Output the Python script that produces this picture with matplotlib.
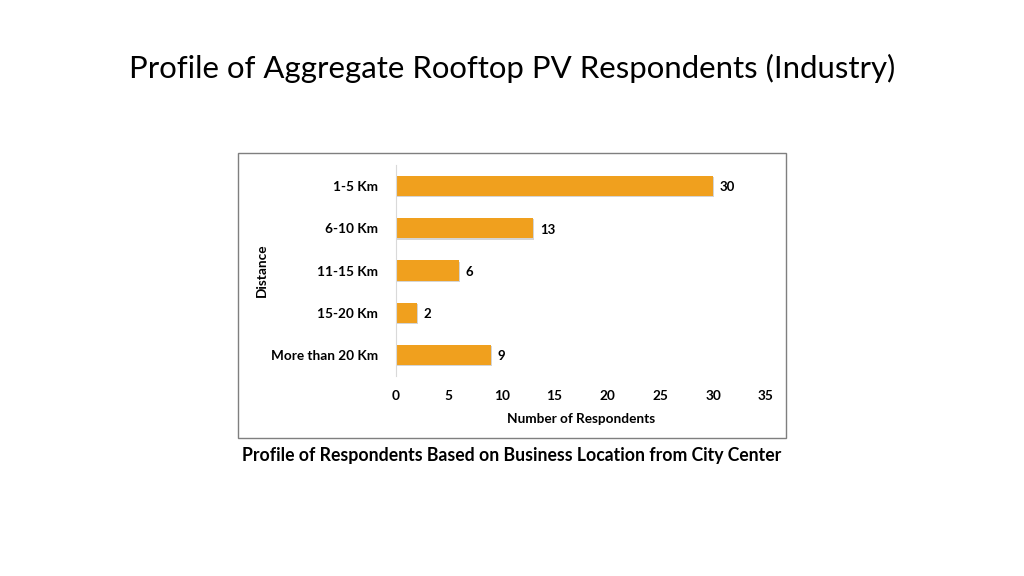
import matplotlib.pyplot as plt
from matplotlib.patches import Rectangle

plt.rcParams['font.family'] = ['Lato', 'DejaVu Sans']

distances = ["1-5 Km", "6-10 Km", "11-15 Km", "15-20 Km", "More than 20 Km"]
respondents = [30, 13, 6, 2, 9]
xticks = [0, 5, 10, 15, 20, 25, 30, 35]

fig = plt.figure(figsize=(10.24, 5.76), dpi=100)

# gray frame round the chart
fig.patches.append(Rectangle((238 / 1024, 1 - 438 / 576), 548 / 1024, 285 / 576,
                             transform=fig.transFigure, fill=False,
                             edgecolor="#7f7f7f", linewidth=1))

ax = fig.add_axes([396 / 1024, 1 - 376 / 576, 370 / 1024, 211 / 576])
ypos = list(range(len(distances)))
ax.barh(ypos, respondents, height=0.48, color="#F0A01E", zorder=2)
# faint shadow under each bar
ax.barh([y + 0.03 for y in ypos], [v + 0.08 for v in respondents], height=0.48,
        color="#d4d4d4", zorder=1)
for y, v in zip(ypos, respondents):
    ax.text(v + 0.6, y + 0.03, str(v), va="center", ha="left", fontsize=9.5, fontweight="bold")

ax.set_yticks(ypos)
ax.set_yticklabels(distances, fontsize=9.8, fontweight="bold")
ax.set_ylim(4.5, -0.5)
ax.set_xlim(0, 35)
ax.set_xticks(xticks)
ax.set_xticklabels([str(t) for t in xticks], fontsize=9.8, fontweight="bold")
ax.tick_params(length=0)
ax.tick_params(axis="y", pad=13)
ax.tick_params(axis="x", pad=10)
for s in ["top", "right", "bottom"]:
    ax.spines[s].set_visible(False)
ax.spines["left"].set_color("#d9d9d9")
ax.set_xlabel("Number of Respondents", fontsize=9.8, fontweight="bold", labelpad=8)
ax.set_ylabel("Distance", fontsize=9.8, fontweight="bold")
ax.yaxis.set_label_coords(-0.345, 0.5)

fig.text(0.5, 1 - 68 / 576, "Profile of Aggregate Rooftop PV Respondents (Industry)",
         ha="center", va="center", fontsize=22.4)
fig.text(0.5, 1 - 455 / 576, "Profile of Respondents Based on Business Location from City Center",
         ha="center", va="center", fontsize=12.7, fontweight="bold")

fig.savefig("out.png", dpi=100)
